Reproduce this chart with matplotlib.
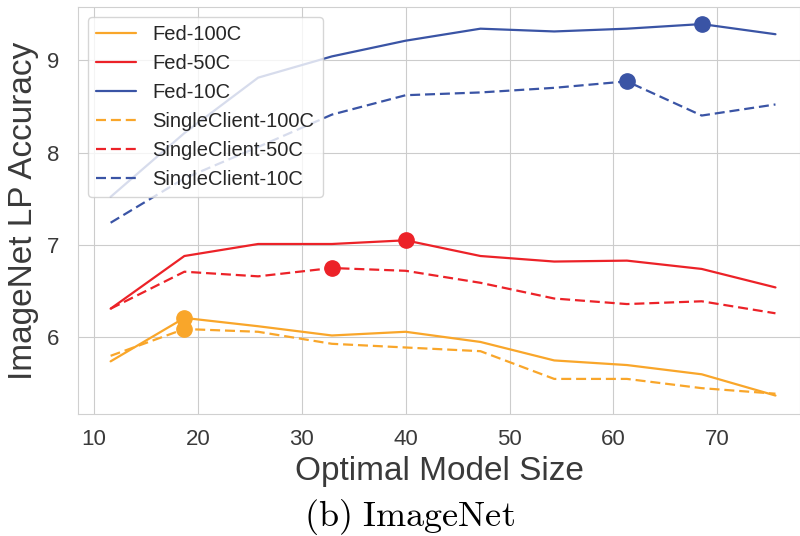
import numpy as np
import matplotlib
matplotlib.use("Agg")
from matplotlib import pyplot as plt
import seaborn as sns

# Data
model_size = [11.6, 18.7, 25.8, 32.9, 40.0, 47.2, 54.3, 61.3, 68.5, 75.6]

fed_100c = [5.74, 6.21, 6.12, 6.02, 6.06, 5.95, 5.75, 5.70, 5.60, 5.37]
fed_50c = [6.31, 6.88, 7.01, 7.01, 7.05, 6.88, 6.82, 6.83, 6.74, 6.54]
fed_10c = [7.52, 8.21, 8.81, 9.04, 9.21, 9.34, 9.31, 9.34, 9.39, 9.28]
single_100c = [5.80, 6.09, 6.06, 5.93, 5.89, 5.85, 5.55, 5.55, 5.45, 5.39]
single_50c = [6.31, 6.71, 6.66, 6.75, 6.72, 6.59, 6.42, 6.36, 6.39, 6.26]
single_10c = [7.24, 7.72, 8.06, 8.41, 8.62, 8.65, 8.70, 8.77, 8.40, 8.52]

series_labels = ["Fed-100C", "Fed-50C", "Fed-10C",
                 "SingleClient-100C", "SingleClient-50C", "SingleClient-10C"]

orange = "#F9A62A"
red = "#EC2228"
blue = "#3A54A5"

sns.set_style("whitegrid")
plt.rcParams['font.family'] = ['Liberation Sans', 'DejaVu Sans']
plt.rcParams['mathtext.fontset'] = 'cm'

fig = plt.figure(figsize=(8, 5.36), dpi=100)
ax = fig.add_axes([0.0975, 0.2267, 0.903, 0.761])

all_series = [fed_100c, fed_50c, fed_10c, single_100c, single_50c, single_10c]
colors = [orange, red, blue, orange, red, blue]
styles = ['-', '-', '-', '--', '--', '--']

for values, label, color, ls in zip(all_series, series_labels, colors, styles):
    best = int(np.argmax(values))
    line, = ax.plot(model_size, values, ls, color=color, lw=1.6, label=label,
                    marker='o', markersize=11, markevery=[best])
    if ls == '--':
        line.set_dashes((4.5, 2.2))

# legend handles without the marker
handles, labels = ax.get_legend_handles_labels()
leg = ax.legend(handles, labels, loc='upper left', fontsize=14.5,
                labelspacing=0.5, framealpha=0.8, borderaxespad=0.5)
for h in leg.get_lines():
    h.set_marker('')

ax.set_xlim(8.46, 78.0)
ax.set_ylim(5.165, 9.579)
ax.set_xticks([10, 20, 30, 40, 50, 60, 70])
ax.set_yticks([6, 7, 8, 9])
ax.tick_params(axis='x', labelsize=16, colors='#3a3a3a', pad=7)
ax.tick_params(axis='y', labelsize=16, colors='#3a3a3a', pad=10)

ax.set_xlabel('Optimal Model Size', fontsize=24, color='#3a3a3a', labelpad=4)
ax.set_ylabel('ImageNet LP Accuracy', fontsize=24, color='#3a3a3a', labelpad=6)

for s in ax.spines.values():
    s.set_color('#d0d0d0')

fig.text(0.512, 0.035, r'$\mathrm{(b)\ ImageNet}$', fontsize=26,
         ha='center', va='center', color='black')

plt.savefig('out.png', dpi=100)
